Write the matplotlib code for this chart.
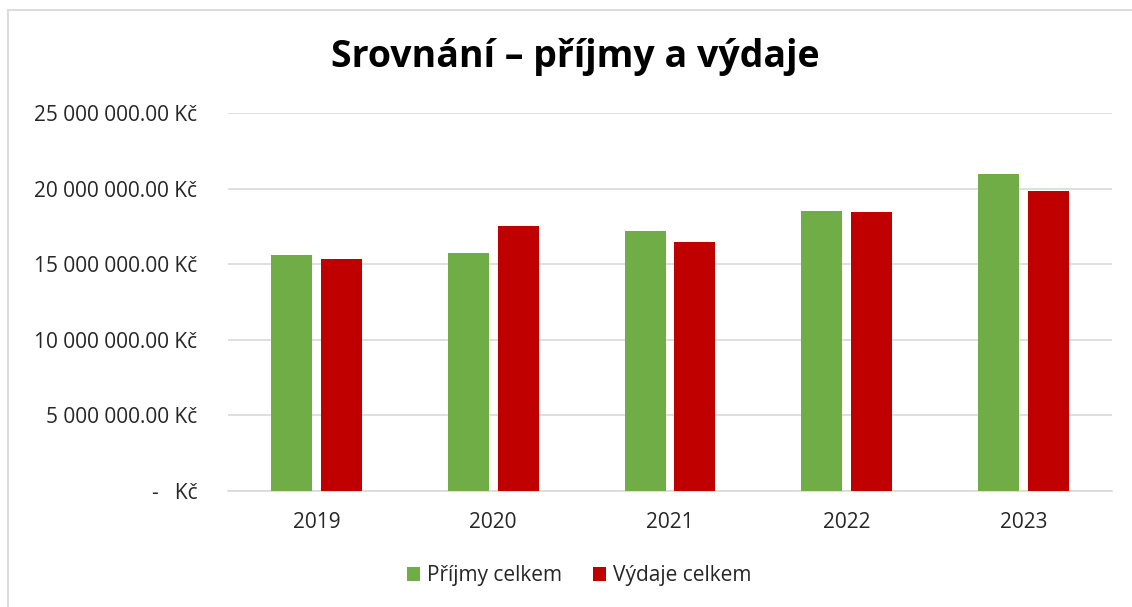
import numpy as np
import matplotlib.pyplot as plt
from matplotlib.ticker import FuncFormatter
from matplotlib.lines import Line2D

# Data
years = ["2019", "2020", "2021", "2022", "2023"]
prijmy = [15.60e6, 15.71e6, 17.19e6, 18.54e6, 20.99e6]
vydaje = [15.36e6, 17.54e6, 16.48e6, 18.45e6, 19.82e6]

plt.rcParams['font.family'] = ['Open Sans', 'DejaVu Sans']

fig = plt.figure(figsize=(11.32, 6.07), dpi=100)
W, H = 1132, 607
ax = fig.add_axes([228 / W, 1 - 491 / H, (1112 - 228) / W, (491 - 113) / H])

x = np.arange(len(years))
w = 0.232
off = 0.141
ax.bar(x - off, prijmy, width=w, color="#70AD47", label="Příjmy celkem", zorder=3)
ax.bar(x + off, vydaje, width=w, color="#C00000", label="Výdaje celkem", zorder=3)

ax.set_xlim(-0.5, len(years) - 0.5)
ax.set_ylim(0, 25e6)
ax.set_yticks(np.arange(0, 25e6 + 1, 5e6))
ax.set_xticks(x)
ax.set_xticklabels(years)


def fmt(v, pos):
    if v == 0:
        return "-   Kč"
    return "{:,.2f} Kč".format(v).replace(",", " ")


ax.yaxis.set_major_formatter(FuncFormatter(fmt))
ax.grid(axis="y", color="#d9d9d9", linewidth=1.2, zorder=0)
for s in ["top", "right", "left"]:
    ax.spines[s].set_visible(False)
ax.spines["bottom"].set_color("#d9d9d9")
ax.spines["bottom"].set_linewidth(1.2)
ax.tick_params(axis="both", length=0, labelsize=15, colors="#262626")
ax.tick_params(axis="y", pad=22)
ax.tick_params(axis="x", pad=15)

fig.text(575 / W, 1 - 57 / H, "Srovnání – příjmy a výdaje", ha="center", va="center",
         fontsize=27, fontweight="bold", color="#000000")

fig.legend(loc="center", bbox_to_anchor=(579 / W, 1 - 576 / H), ncol=2, frameon=False,
           fontsize=15, handlelength=0.65, handleheight=0.65, handletextpad=0.3,
           columnspacing=1.5, labelcolor="#262626")

# chart area border (top and left visible)
fig.add_artist(Line2D([8 / W, 1], [1 - 9.5 / H, 1 - 9.5 / H], color="#d9d9d9", linewidth=1.3))
fig.add_artist(Line2D([8 / W, 8 / W], [0, 1 - 9.5 / H], color="#d9d9d9", linewidth=1.3))

fig.savefig("out.png", dpi=100)
